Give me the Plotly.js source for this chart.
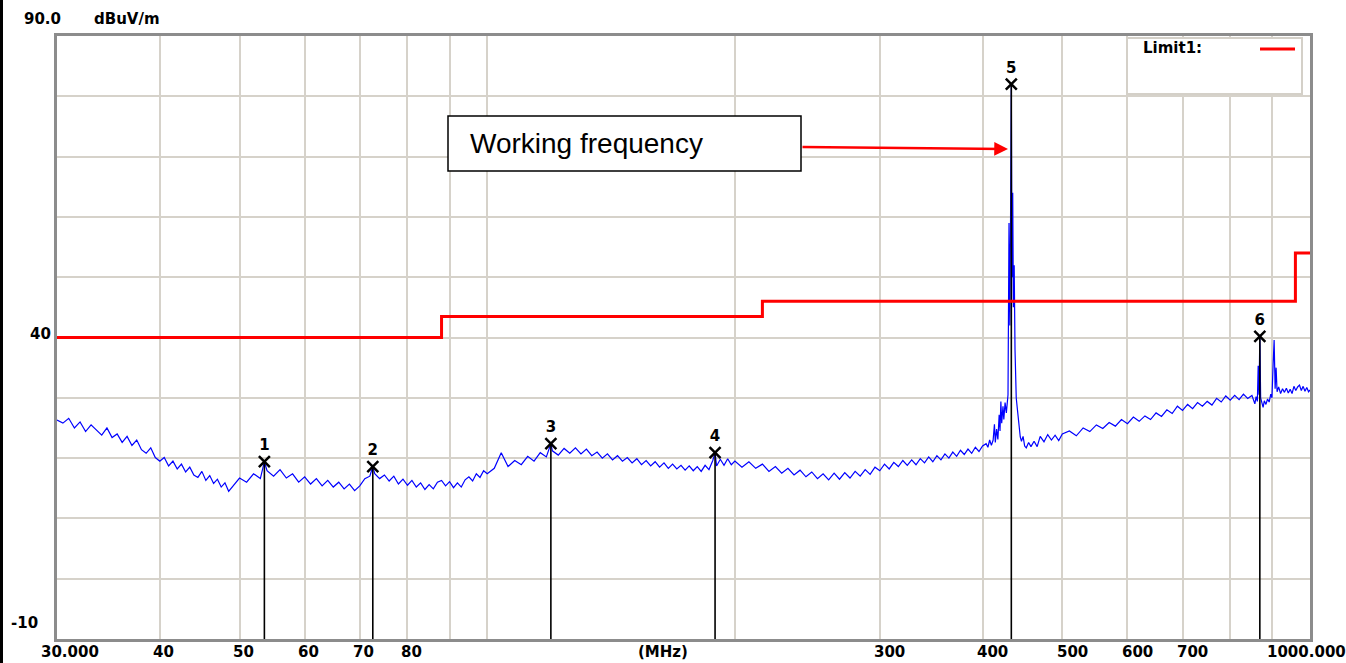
<!DOCTYPE html>
<html>
<head>
<meta charset="utf-8">
<script src="https://cdn.plot.ly/plotly-3.0.1.min.js"></script>
<style>
  html, body { margin:0; padding:0; background:#fff; }
  #wrap { position:relative; width:1346px; height:663px; overflow:hidden; }
  #edge { position:absolute; left:0; top:0; width:3px; height:663px; background:#000; z-index:10; }
  #chart { position:absolute; left:0; top:0; width:1346px; height:663px; }
</style>
</head>
<body>
<div id="wrap"><div id="chart"></div><div id="edge"></div></div>
<script>
// ---------------- DATA ----------------
const traceFreqMHz = [
  30,30.5,31,31.5,32,32.5,33,33.5,34,34.5,35,35.5,36,36.5,37,37.5,38,38.5,39,39.5,
  40,40.5,41,41.5,42,42.5,43,43.5,44,44.5,45,45.5,46,46.5,47,47.5,48,48.5,49,49.5,50,
  51,52,53,53.6,54,55,56,57,58,59,60,61,62,63,64,65,66,67,68,69,70,
  71,72,72.6,73,74,75,76,77,78,79,80,81,82,83,84,85,86,87,88,89,90,
  91,92,93,94,95,96,97,98,99,100,
  102,104,106,108,110,112,114,116,118,119.5,120,122,124,126,128,130,132,134,136,138,140,
  142,144,146,148,150,152,154,156,158,160,162,164,166,168,170,172,174,176,178,180,
  182,184,186,188,189.2,190,192,194,196,198,200,
  204,208,212,216,220,224,228,232,236,240,244,248,252,256,260,264,268,272,276,280,
  284,288,292,296,300,304,308,312,316,320,324,328,332,336,340,344,348,352,356,360,
  364,368,372,376,380,384,388,392,396,400,
  404,406,408,410,412,413.5,414.5,416,417.5,419,420,421,422,423.5,424.5,426,427.5,429.5,
  430.7,431.7,432.5,433.5,434.3,435.2,436,437,438,439.5,441,443,444.5,446,448,450,452,455,458,
  462,466,470,475,480,485,490,495,500,510,520,530,540,550,560,570,580,590,600,
  610,620,630,640,650,660,670,680,690,700,710,720,730,740,750,760,770,780,790,800,
  810,820,830,840,850,
  857,860,863,865,867,869,871,874,877,880,884,888,892,896,899,902,904.5,907,909.5,912,
  916,921,926,931,936,941,946,951,956,961,966,971,976,981,986,991,996,1000
];
const traceLevel = [
  26.3,25.8,26.6,25.0,26.0,24.4,25.5,24.6,23.8,25.0,23.4,24.0,22.6,23.6,22.1,23.0,21.4,20.8,21.7,20.1,
  19.5,20.1,18.7,19.5,18.2,19.0,17.7,18.5,17.2,16.8,17.8,16.3,17.1,15.8,16.5,15.2,15.9,14.5,15.2,16.0,16.7,
  16.0,17.4,16.6,19.4,17.9,17.0,18.1,16.7,17.4,16.0,16.9,15.7,16.6,15.4,16.3,15.2,16.0,14.9,15.7,14.6,15.4,
  16.6,17.0,18.6,17.4,16.6,17.2,16.2,17.0,15.7,16.5,15.5,16.3,15.2,15.9,14.8,15.6,14.9,16.0,16.3,15.4,16.1,
  15.1,15.9,15.2,16.4,16.9,16.2,17.4,16.8,17.9,17.4,
  18.3,20.9,18.6,19.6,18.9,20.3,19.5,20.9,20.2,22.4,21.2,20.5,21.6,20.8,21.7,20.7,21.5,20.4,21.0,20.0,20.7,
  19.7,20.4,19.5,20.1,19.2,19.9,18.9,19.6,18.7,19.4,18.5,19.2,18.3,19.0,18.2,18.8,18.0,18.7,17.9,18.6,
  17.8,18.8,18.1,19.6,20.9,18.7,19.8,18.8,19.9,18.9,19.5,
  18.5,19.4,18.3,19.0,17.8,18.6,17.5,18.3,17.2,18.0,16.9,17.7,16.6,17.4,16.4,17.5,16.5,17.6,16.7,17.8,
  17.0,18.1,17.3,18.5,17.9,19.0,18.2,19.3,18.6,19.6,18.8,19.7,18.9,19.9,19.2,20.2,19.4,20.4,19.7,20.7,
  20.0,21.0,20.3,21.3,20.6,21.5,20.8,21.8,21.1,22.0,
  22.4,21.8,23.0,22.1,23.0,25.6,22.6,24.8,23.1,27.2,24.5,29.4,25.8,28.6,26.4,29.2,27.5,30.5,
  59.0,42.0,58.0,82.0,50.0,64.0,45.0,52.0,38.0,30.0,28.0,25.4,23.5,22.8,23.6,22.0,21.7,22.6,21.9,
  22.8,21.9,23.6,22.7,23.9,23.0,23.8,22.9,24.0,24.5,23.7,25.0,24.4,25.5,24.9,25.9,25.3,26.4,25.7,
  26.8,26.1,27.0,26.4,27.5,26.9,28.0,27.4,28.6,27.9,28.9,28.2,29.2,28.6,29.4,28.8,29.9,29.3,30.3,29.6,
  30.4,29.7,30.6,29.9,30.4,
  29.0,30.2,29.4,35.3,30.5,40.2,30.0,29.0,28.4,29.5,28.9,29.8,29.3,30.6,30.0,35.6,39.6,31.5,35.0,31.0,
  31.8,30.7,31.5,30.9,31.6,30.8,31.4,30.7,31.9,31.2,31.8,32.1,31.2,31.9,31.1,31.7,31.0,31.3
];

const limitFreqMHz = [30, 88, 216, 960, 1000];
const limitLevel = [40, 43.5, 46, 54, 54];

const markerFreqMHz = [53.6, 72.6, 119.5, 189.2, 433.5, 869];
const markerLevel = [19.4, 18.6, 22.4, 20.9, 82.0, 40.2];
const markerLabel = ['1', '2', '3', '4', '5', '6'];

const gridFreqMHz = [40, 50, 60, 70, 80, 90, 100, 200, 300, 400, 500, 600, 700, 800, 900];
const xTickFreqMHz = [30, 40, 50, 60, 70, 80, 300, 400, 500, 600, 700, 1000];
const xTickText = ['30.000', '40', '50', '60', '70', '80', '300', '400', '500', '600', '700', '1000.000'];
const xUnitText = '(MHz)';
const yTopText = '90.0';
const yUnitText = 'dBuV/m';
const yTickValues = [40, -10];
const yTickText = ['40', '-10'];
const legendText = 'Limit1:';
const calloutText = 'Working frequency';

// ---------------- LAYOUT HELPERS ----------------
const L = 57, R = 1310, T = 36, B = 639;
const fx = px => (px - L) / (R - L);
const fy = py => (B - py) / (B - T);
const boldFont = { family: 'DejaVu Sans', size: 15, color: '#000', weight: 'bold' };

// marker drop lines
const dropX = [], dropY = [];
markerFreqMHz.forEach((f, i) => { dropX.push(f, f, null); dropY.push(markerLevel[i], -10, null); });

const traces = [
  { x: traceFreqMHz, y: traceLevel, mode: 'lines', line: { color: '#0000ff', width: 1.2 }, hoverinfo: 'skip' },
  { x: dropX, y: dropY, mode: 'lines', line: { color: '#000', width: 1.6 }, hoverinfo: 'skip' },
  { x: limitFreqMHz, y: limitLevel, mode: 'lines', line: { color: '#ff0000', width: 3, shape: 'hv' }, hoverinfo: 'skip' },
  { x: markerFreqMHz, y: markerLevel, mode: 'markers+text', text: markerLabel, textposition: 'top center',
    textfont: boldFont, cliponaxis: false,
    marker: { symbol: 'x-thin', size: 11, color: '#000', line: { width: 2.5, color: '#000' } }, hoverinfo: 'skip' }
];

const annotations = [];
xTickFreqMHz.forEach((f, i) => {
  let shift = f < 100 ? 4 : 10;
  if (i === 0) shift = 13;
  if (i === xTickFreqMHz.length - 1) shift = -4;
  annotations.push({ xref: 'x', yref: 'paper', x: Math.log10(f), y: 0, xanchor: 'center', yanchor: 'middle',
    yshift: -13, xshift: shift, text: xTickText[i], showarrow: false, font: boldFont });
});
annotations.push({ xref: 'paper', yref: 'paper', x: fx(663), y: 0, yshift: -13, xanchor: 'center', yanchor: 'middle',
  text: xUnitText, showarrow: false, font: boldFont });
annotations.push({ xref: 'paper', yref: 'paper', x: fx(63), y: fy(19), xanchor: 'right', yanchor: 'middle',
  text: yTopText, showarrow: false, font: boldFont });
annotations.push({ xref: 'paper', yref: 'paper', x: fx(92), y: fy(19), xanchor: 'left', yanchor: 'middle',
  text: yUnitText, showarrow: false, font: boldFont });
yTickValues.forEach((v, i) => {
  annotations.push({ xref: 'paper', yref: 'y', x: 0, y: v, xanchor: 'right', yanchor: 'middle',
    xshift: v === -10 ? -17 : -4, yshift: v === -10 ? 16 : 4, text: yTickText[i], showarrow: false, font: boldFont });
});
annotations.push({ xref: 'paper', yref: 'paper', x: fx(1141), y: fy(48), xanchor: 'left', yanchor: 'middle',
  text: legendText, showarrow: false, font: boldFont });
annotations.push({ xref: 'paper', yref: 'paper', x: fx(468), y: fy(144), xanchor: 'left', yanchor: 'middle',
  text: calloutText, showarrow: false, font: { family: 'Liberation Sans, Arial', size: 28, color: '#000' } });
annotations.push({ xref: 'paper', yref: 'paper', x: fx(1008), y: fy(149), ax: -207, ay: -2, text: '',
  showarrow: true, arrowhead: 2, arrowsize: 1.1, arrowwidth: 2.5, arrowcolor: '#ff0000' });

const shapes = [
  { type: 'rect', xref: 'paper', yref: 'paper', x0: fx(1127), x1: fx(1302), y0: fy(94), y1: fy(38),
    fillcolor: '#fff', line: { color: '#d4d0c8', width: 2 }, layer: 'above' },
  { type: 'line', xref: 'paper', yref: 'paper', x0: fx(1260), x1: fx(1295), y0: fy(49), y1: fy(49),
    line: { color: '#ff0000', width: 3 }, layer: 'above' },
  { type: 'rect', xref: 'paper', yref: 'paper', x0: fx(448), x1: fx(801), y0: fy(171), y1: fy(116),
    fillcolor: '#fff', line: { color: '#000', width: 1.5 }, layer: 'above' }
];

const layout = {
  width: 1346, height: 663,
  margin: { l: L, r: 1346 - R, t: T, b: 663 - B, pad: 0 },
  paper_bgcolor: '#fff', plot_bgcolor: '#fff',
  showlegend: false,
  xaxis: { type: 'log', range: [Math.log10(30), 3], tickmode: 'array', tickvals: gridFreqMHz,
    showticklabels: false, ticks: '', showgrid: true, gridcolor: '#d6d2ca', gridwidth: 2,
    zeroline: false, showline: true, mirror: true, linecolor: '#8c8c8c', linewidth: 3, fixedrange: true },
  yaxis: { range: [-10, 90], tickmode: 'linear', tick0: -10, dtick: 10, showticklabels: false, ticks: '',
    showgrid: true, gridcolor: '#d6d2ca', gridwidth: 2, zeroline: false,
    showline: true, mirror: true, linecolor: '#8c8c8c', linewidth: 3, fixedrange: true },
  annotations: annotations,
  shapes: shapes
};

Plotly.newPlot('chart', traces, layout, { displayModeBar: false, staticPlot: true });
</script>
</body>
</html>
